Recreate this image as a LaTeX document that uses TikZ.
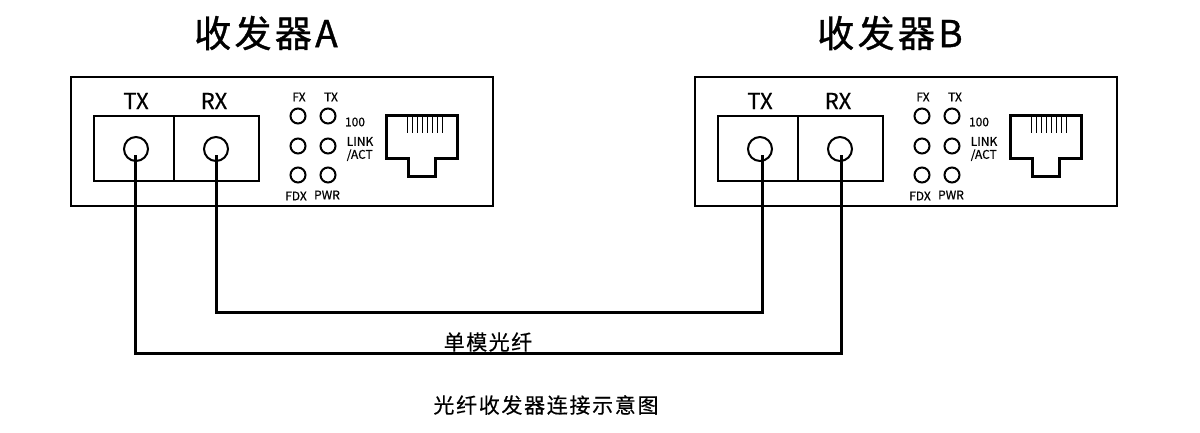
\documentclass[tikz,border=0pt]{standalone}
\usepackage{fontspec}
\setmainfont{Noto Sans CJK SC}
\usetikzlibrary{positioning}
\tikzset{
  casebox/.style={draw,line width=2pt},
  portlamp/.style={draw,circle,line width=2pt,minimum size=24pt,inner sep=0pt},
  ledlamp/.style={draw,circle,line width=2pt,minimum size=15pt,inner sep=0pt},
  fiber/.style={line width=3pt},
  ledtext/.style={font=\fontsize{12}{13}\selectfont\addfontfeature{FakeBold=0.6},inner sep=0pt,align=left},
  porttext/.style={font=\fontsize{22}{22}\selectfont\addfontfeature{FakeBold=0.6},inner sep=0pt},
  titletext/.style={font=\fontsize{37}{37}\selectfont\addfontfeature{FakeBold=1,LetterSpace=9},inner sep=0pt},
}
\begin{document}
\begin{tikzpicture}[x=1pt,y=-1pt]
  \useasboundingbox (0,0) rectangle (1200,432);
  \foreach \n/\o/\tend/\rend in {A/0/135/216,B/624/138/217}{
    \begin{scope}[xshift=\o pt]
      \node[titletext] (title\n) at (266,33) {收发器\n};
      \draw[casebox] (71,77) rectangle (493,206);
      \draw[casebox] (94,116) rectangle (259,181);
      \draw[casebox] (174,116) -- (174,181);
      \node[porttext] (labelTX\n) at (136,101) {TX};
      \node[porttext] (labelRX\n) at (214,101) {RX};
      \node[portlamp] (portTX\n) at (136,149) {};
      \node[portlamp] (portRX\n) at (216,149) {};
      \coordinate (endTX\n) at (\tend,155);
      \coordinate (endRX\n) at (\rend,155);
      \node[ledlamp] (fx\n) at (298,116) {};
      \node[ledlamp] (tx\n) at (328,116) {};
      \node[ledlamp] (fa\n) at (298,146) {};
      \node[ledlamp] (la\n) at (328,146) {};
      \node[ledlamp] (fdx\n) at (298,175) {};
      \node[ledlamp] (pwr\n) at (328,175) {};
      \node[ledtext] at (299,97) {FX};
      \node[ledtext] at (331,97) {TX};
      \node[ledtext] at (296,196) {FDX};
      \node[ledtext] at (327,195) {PWR};
      \node[ledtext] at (355,122) {100};
      \node[ledtext] at (360,149) {LINK\\/ACT};
      % jack outline and pins
      \draw[line width=3pt] (386,115) -- (457,115) -- (457,158) -- (435,158) -- (435,176) -- (408,176) -- (408,158) -- (386,158) -- cycle;
      \foreach \p in {0,...,7}
        \draw[line width=1.6pt] (407.5+5*\p,115) -- (407.5+5*\p,133);
    \end{scope}
  }
  \draw[fiber] (endRXA) -- (216,312) -- (762,312) -- (endTXB);
  \draw[fiber] (endTXA) -- (135,353) -- (841,353) -- (endRXB);
  \node[font=\fontsize{21}{21}\selectfont\addfontfeature{FakeBold=0.4,LetterSpace=7},inner sep=0pt] (fibertext) at (488,342) {单模光纤};
  \node[font=\fontsize{21}{21}\selectfont\addfontfeature{FakeBold=0.4,LetterSpace=8},inner sep=0pt] (caption) at (546,405) {光纤收发器连接示意图};
\end{tikzpicture}
\end{document}
